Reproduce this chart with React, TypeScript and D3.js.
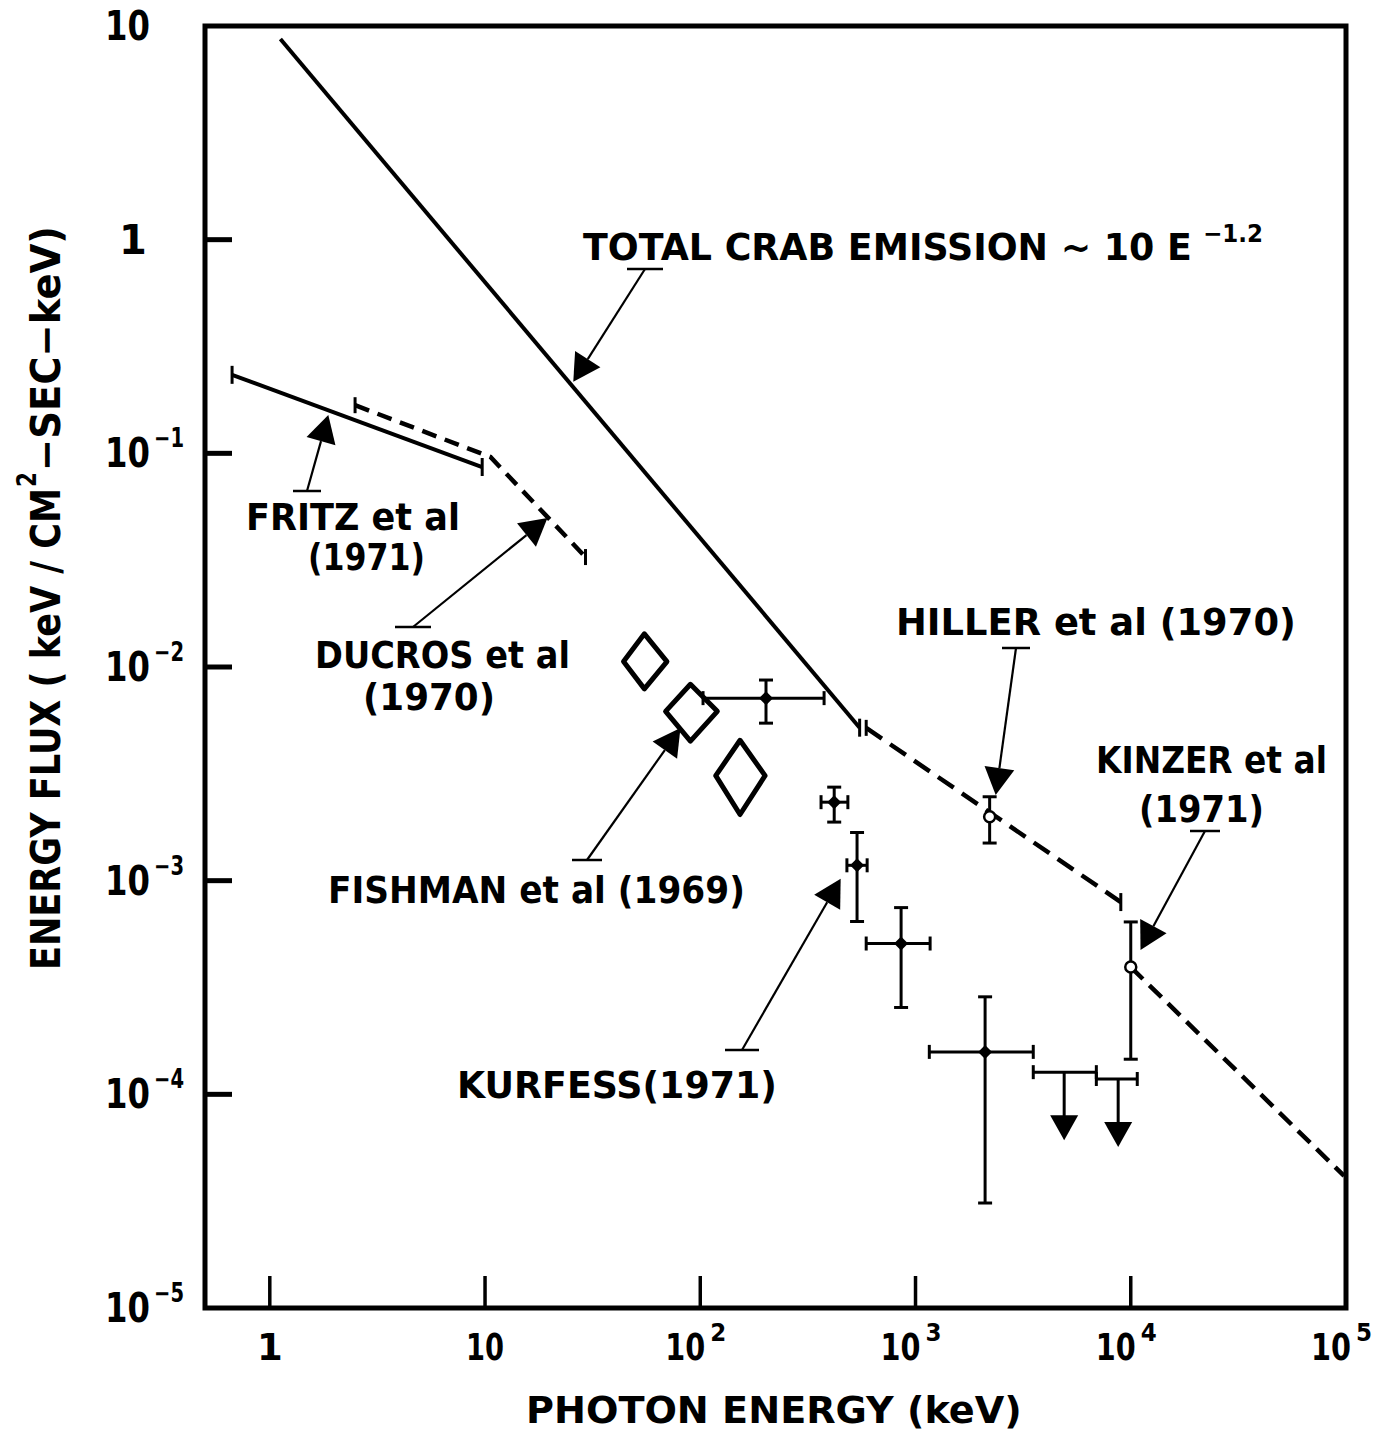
import { useEffect, useRef } from 'react';
import * as d3 from 'd3';

type Pt = [number, number];

const WIDTH = 1375;
const HEIGHT = 1439;
const FONT = '"DejaVu Sans", "Liberation Sans", Arial, sans-serif';
const INK = '#000';

// axes (log-log)
const xDomain: Pt = [0.5, 1e5];
const yDomain: Pt = [1e-5, 10];
const xTickValues = [1, 10, 100, 1000, 10000];
const yTickValues = [1, 0.1, 0.01, 0.001, 0.0001];
const xLabelValues = [1, 10, 100, 1000, 10000, 100000];
const xLabelBase = ['1', '10', '10', '10', '10', '10'];
const xLabelExp = ['', '', '2', '3', '4', '5'];
const yLabelValues = [10, 1, 0.1, 0.01, 0.001, 0.0001, 0.00001];
const yLabelBase = ['10', '1', '10', '10', '10', '10', '10'];
const yLabelExp = ['', '', '−1', '−2', '−3', '−4', '−5'];

// spectra (photon energy keV, energy flux)
const crabE = [1.12, 550];
const crabF = [8.7, 5.2e-3];
const fritzE = [0.668, 9.7];
const fritzF = [0.233, 0.0863];
const ducrosE = [2.49, 10.6, 29.3];
const ducrosF = [0.168, 0.0961, 0.0327];
const hillerE = [590, 8990];
const hillerF = [5.19e-3, 7.94e-4];
const kinzerE = [1.0e4, 9.8e4];
const kinzerF = [3.94e-4, 4.15e-5];

// Fishman et al (1969) error boxes
const fishmanE = [55, 90, 153];
const fishmanELo = [44, 69, 118];
const fishmanEHi = [70, 120, 200];
const fishmanF = [1.06e-2, 6.2e-3, 3.1e-3];
const fishmanFLo = [7.9e-3, 4.5e-3, 2.04e-3];
const fishmanFHi = [1.43e-2, 8.3e-3, 4.54e-3];

// Kurfess (1971) points and upper limits
const kurfessE = [202, 419, 535, 857, 2105];
const kurfessELo = [103, 364, 480, 590, 1159];
const kurfessEHi = [376, 485, 596, 1169, 3524];
const kurfessF = [7.15e-3, 2.33e-3, 1.18e-3, 5.08e-4, 1.58e-4];
const kurfessFLo = [5.46e-3, 1.88e-3, 6.44e-4, 2.55e-4, 3.1e-5];
const kurfessFHi = [8.69e-3, 2.74e-3, 1.68e-3, 7.48e-4, 2.86e-4];
const limitE = [4905, 8740];
const limitELo = [3524, 6920];
const limitEHi = [6920, 10720];
const limitF = [1.27e-4, 1.18e-4];

// single points with open circles (Hiller, Kinzer)
const circleE = [2210, 1.0e4];
const circleF = [1.99e-3, 3.94e-4];
const circleFLo = [1.5e-3, 1.46e-4];
const circleFHi = [2.47e-3, 6.41e-4];

// annotation arrows: tip in data space, tail at the label bar
const arrowTipE = [25.7, 1.87, 19.5, 80.9, 449, 2358, 1.11e4];
const arrowTipF = [0.216, 0.151, 0.0498, 5.18e-3, 1.02e-3, 2.52e-3, 4.74e-4];

export default function App() {
  const svgRef = useRef<SVGSVGElement>(null);

  useEffect(() => {
    if (!svgRef.current) return;
    const svg = d3.select(svgRef.current);
    svg.selectAll('*').remove();

    const x = d3.scaleLog().domain(xDomain).range([205, 1346]);
    const y = d3.scaleLog().domain(yDomain).range([1308, 26]);

    const g = svg.append('g');

    // frame
    g.append('rect')
      .attr('x', x(xDomain[0]))
      .attr('y', y(yDomain[1]))
      .attr('width', x(xDomain[1]) - x(xDomain[0]))
      .attr('height', y(yDomain[0]) - y(yDomain[1]))
      .attr('fill', 'none')
      .attr('stroke', INK)
      .attr('stroke-width', 5);

    // ticks
    g.selectAll('line.xt')
      .data(xTickValues)
      .join('line')
      .attr('class', 'xt')
      .attr('x1', (d) => x(d)).attr('x2', (d) => x(d))
      .attr('y1', y(yDomain[0])).attr('y2', y(yDomain[0]) - 32)
      .attr('stroke', INK).attr('stroke-width', 3.5);
    g.selectAll('line.yt')
      .data(yTickValues)
      .join('line')
      .attr('class', 'yt')
      .attr('x1', x(xDomain[0])).attr('x2', x(xDomain[0]) + 27)
      .attr('y1', (d) => y(d)).attr('y2', (d) => y(d))
      .attr('stroke', INK).attr('stroke-width', 5);

    // text squeezed horizontally to the width of the hand lettering
    const txt = (
      parent: d3.Selection<SVGGElement, unknown, null, undefined>,
      s: string, tx: number, ty: number, size: number, len?: number, anchor = 'start',
    ) => {
      const t = parent.append('text')
        .attr('font-family', FONT).attr('font-weight', 'bold')
        .attr('font-size', size).attr('fill', INK)
        .attr('text-anchor', anchor)
        .text(s);
      let k = 1;
      if (len) {
        const w = (t.node() as SVGTextElement).getComputedTextLength();
        if (w > 0) k = len / w;
      }
      t.attr('transform', `translate(${tx},${ty}) scale(${k},1)`);
      return t;
    };

    // x tick labels
    xLabelValues.forEach((v, i) => {
      const cx = x(v);
      if (!xLabelExp[i]) {
        txt(g, xLabelBase[i], cx, 1360, 37, xLabelBase[i].length > 1 ? 38 : undefined, 'middle');
      } else {
        txt(g, xLabelBase[i], cx - 35, 1360, 37, 40);
        txt(g, xLabelExp[i], cx + 10, 1341, 24, 16);
      }
    });

    // y tick labels
    yLabelValues.forEach((v, i) => {
      const cy = y(v) + 14;
      if (!yLabelExp[i]) {
        if (yLabelBase[i] === '1') txt(g, '1', 133, cy, 40, undefined, 'middle');
        else txt(g, yLabelBase[i], 105, cy, 40, 45);
      } else {
        txt(g, yLabelBase[i], 105, cy, 40, 45);
        txt(g, yLabelExp[i], 154, cy - 20, 26, 30);
      }
    });

    // axis titles
    txt(g, 'PHOTON ENERGY (keV)', 526, 1423, 38, 496);
    const yt = g.append('g').attr('transform', 'translate(60,598) rotate(-90)');
    txt(yt, 'ENERGY FLUX ( keV / CM', -372, 0, 40, 482);
    txt(yt, '2', 111, -24, 26, 15);
    txt(yt, '−SEC−keV)', 127, 0, 40, 245);

    const line = d3.line<[number, number]>()
      .x((d) => x(d[0]))
      .y((d) => y(d[1]));
    const zip = (e: number[], f: number[]) => e.map((v, i) => [v, f[i]] as [number, number]);

    const vcap = (e: number, f: number, h = 9, w = 3) =>
      g.append('line')
        .attr('x1', x(e)).attr('x2', x(e))
        .attr('y1', y(f) - h).attr('y2', y(f) + h)
        .attr('stroke', INK).attr('stroke-width', w);

    // spectra
    g.append('path').attr('d', line(zip(crabE, crabF)))
      .attr('fill', 'none').attr('stroke', INK).attr('stroke-width', 4);
    vcap(crabE[1], crabF[1], 9, 3);

    g.append('path').attr('d', line(zip(fritzE, fritzF)))
      .attr('fill', 'none').attr('stroke', INK).attr('stroke-width', 4);
    vcap(fritzE[0], fritzF[0]);
    vcap(fritzE[1], fritzF[1]);

    g.append('path').attr('d', line(zip(ducrosE, ducrosF)))
      .attr('fill', 'none').attr('stroke', INK).attr('stroke-width', 4.5)
      .attr('stroke-dasharray', '15,9');
    vcap(ducrosE[0], ducrosF[0], 8);
    vcap(ducrosE[2], ducrosF[2], 8);

    g.append('path').attr('d', line(zip(hillerE, hillerF)))
      .attr('fill', 'none').attr('stroke', INK).attr('stroke-width', 4.5)
      .attr('stroke-dasharray', '19,10');
    vcap(hillerE[0], hillerF[0], 8);
    vcap(hillerE[1], hillerF[1], 9);

    g.append('path').attr('d', line(zip(kinzerE, kinzerF)))
      .attr('fill', 'none').attr('stroke', INK).attr('stroke-width', 4.5)
      .attr('stroke-dasharray', '17,9');

    // Fishman diamonds
    fishmanE.forEach((e, i) => {
      const pts: Pt[] = [
        [x(fishmanELo[i]), y(fishmanF[i])],
        [x(e), y(fishmanFHi[i])],
        [x(fishmanEHi[i]), y(fishmanF[i])],
        [x(e), y(fishmanFLo[i])],
      ];
      g.append('path')
        .attr('d', `M${pts.map((p) => p.join(',')).join('L')}Z`)
        .attr('fill', '#fff').attr('stroke', INK).attr('stroke-width', 5)
        .attr('stroke-linejoin', 'round');
    });

    // error bars with filled diamond markers
    const errBar = (e: number, eLo: number, eHi: number, f: number, fLo: number, fHi: number) => {
      const cx = x(e), cy = y(f);
      g.append('line').attr('x1', x(eLo)).attr('x2', x(eHi)).attr('y1', cy).attr('y2', cy)
        .attr('stroke', INK).attr('stroke-width', 3);
      g.append('line').attr('x1', cx).attr('x2', cx).attr('y1', y(fHi)).attr('y2', y(fLo))
        .attr('stroke', INK).attr('stroke-width', 3);
      [eLo, eHi].forEach((v) =>
        g.append('line').attr('x1', x(v)).attr('x2', x(v)).attr('y1', cy - 7).attr('y2', cy + 7)
          .attr('stroke', INK).attr('stroke-width', 3));
      [fLo, fHi].forEach((v) =>
        g.append('line').attr('x1', cx - 7).attr('x2', cx + 7).attr('y1', y(v)).attr('y2', y(v))
          .attr('stroke', INK).attr('stroke-width', 3));
      g.append('path')
        .attr('d', `M${cx - 7},${cy}L${cx},${cy - 7}L${cx + 7},${cy}L${cx},${cy + 7}Z`)
        .attr('fill', INK);
    };
    kurfessE.forEach((e, i) =>
      errBar(e, kurfessELo[i], kurfessEHi[i], kurfessF[i], kurfessFLo[i], kurfessFHi[i]));

    // upper limits
    limitE.forEach((e, i) => {
      const cx = x(e), cy = y(limitF[i]);
      g.append('line').attr('x1', x(limitELo[i])).attr('x2', x(limitEHi[i])).attr('y1', cy).attr('y2', cy)
        .attr('stroke', INK).attr('stroke-width', 3);
      [limitELo[i], limitEHi[i]].forEach((v) =>
        g.append('line').attr('x1', x(v)).attr('x2', x(v)).attr('y1', cy - 7).attr('y2', cy + 7)
          .attr('stroke', INK).attr('stroke-width', 3));
      g.append('line').attr('x1', cx).attr('x2', cx).attr('y1', cy).attr('y2', cy + 46)
        .attr('stroke', INK).attr('stroke-width', 3);
      g.append('path')
        .attr('d', `M${cx - 14},${cy + 43}L${cx + 14},${cy + 43}L${cx},${cy + 68}Z`)
        .attr('fill', INK);
    });

    // open-circle points
    circleE.forEach((e, i) => {
      const cx = x(e);
      g.append('line').attr('x1', cx).attr('x2', cx).attr('y1', y(circleFHi[i])).attr('y2', y(circleFLo[i]))
        .attr('stroke', INK).attr('stroke-width', 3);
      [circleFLo[i], circleFHi[i]].forEach((v) =>
        g.append('line').attr('x1', cx - 7).attr('x2', cx + 7).attr('y1', y(v)).attr('y2', y(v))
          .attr('stroke', INK).attr('stroke-width', 3));
      g.append('circle').attr('cx', cx).attr('cy', y(circleF[i])).attr('r', 5.5)
        .attr('fill', '#fff').attr('stroke', INK).attr('stroke-width', 2.5);
    });

    // label arrows
    const tails: Pt[] = [[645, 269], [307, 491], [413, 627], [587, 860], [742, 1050], [1016, 648], [1205, 831]];
    const bars = [18, 14, 18, 15, 17, 14, 15];
    tails.forEach((t, i) => {
      const tip: Pt = [x(arrowTipE[i]), y(arrowTipF[i])];
      const dx = tip[0] - t[0], dy = tip[1] - t[1];
      const len = Math.hypot(dx, dy);
      const ux = dx / len, uy = dy / len;
      const L = 27, W = 15;
      const bx = tip[0] - ux * L, by = tip[1] - uy * L;
      g.append('line').attr('x1', t[0] - bars[i]).attr('x2', t[0] + bars[i]).attr('y1', t[1]).attr('y2', t[1])
        .attr('stroke', INK).attr('stroke-width', 2.5);
      g.append('line').attr('x1', t[0]).attr('y1', t[1]).attr('x2', bx).attr('y2', by)
        .attr('stroke', INK).attr('stroke-width', 2.2);
      g.append('path')
        .attr('d', `M${tip[0]},${tip[1]}L${bx - uy * W},${by + ux * W}L${bx + uy * W},${by - ux * W}Z`)
        .attr('fill', INK);
    });

    // labels
    txt(g, 'TOTAL CRAB EMISSION ~ 10 E', 583, 260, 38, 609);
    txt(g, '−1.2', 1203, 242, 24, 60);
    txt(g, 'FRITZ et al', 246, 530, 38, 214);
    txt(g, '(1971)', 308, 570, 38, 117);
    txt(g, 'DUCROS et al', 315, 668, 38, 255);
    txt(g, '(1970)', 363, 710, 38, 132);
    txt(g, 'HILLER et al (1970)', 896, 635, 38, 400);
    txt(g, 'KINZER et al', 1096, 773, 38, 231);
    txt(g, '(1971)', 1139, 822, 38, 125);
    txt(g, 'FISHMAN et al (1969)', 328, 903, 38, 417);
    txt(g, 'KURFESS(1971)', 457, 1098, 38, 320);
  }, []);

  return (
    <svg
      ref={svgRef}
      width={WIDTH}
      height={HEIGHT}
      style={{ position: 'absolute', left: 0, top: 0, background: '#fff' }}
    />
  );
}
